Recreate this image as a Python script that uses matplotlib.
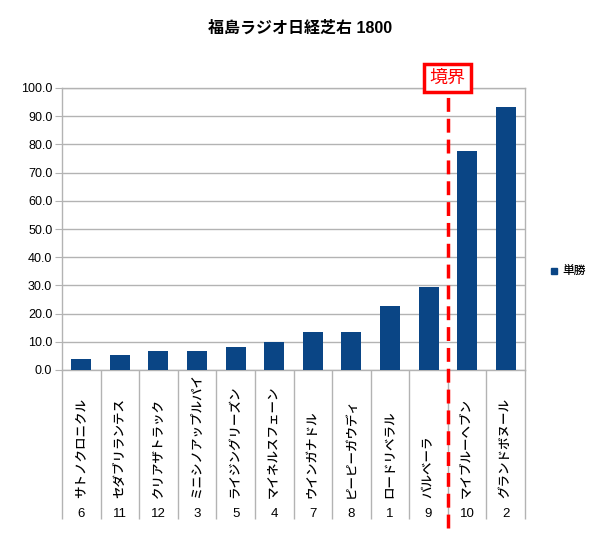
import matplotlib
matplotlib.use("Agg")
import matplotlib.pyplot as plt
import matplotlib.transforms as mtransforms
import numpy as np

plt.rcParams['font.family'] = ['Liberation Sans', 'Noto Sans CJK JP', 'DejaVu Sans']

# data
horse_names = ["サトノクロニクル", "セダブリランテス", "クリアザトラック", "ミニシノアップルパイ",
               "ライジングリーズン", "マイネルスフェーン", "ウインガナドル", "ピーピーガウディ",
               "ロードリベラル", "バルベーラ", "マイブルーヘブン", "グランドボヌール"]
horse_numbers = ["6", "11", "12", "3", "5", "4", "7", "8", "1", "9", "10", "2"]
odds_win = [3.8, 5.3, 6.6, 6.8, 8.2, 9.9, 13.5, 13.5, 22.6, 29.3, 77.6, 93.2]
border_after = 10  # boundary drawn between 10th and 11th horse

BAR = "#0a4585"
GRID = "#b3b3b3"

fig = plt.figure(figsize=(6.0, 5.43), dpi=100, facecolor="white")
ax = fig.add_axes([62 / 600, 1 - 370 / 543, 463 / 600, 282 / 543])

x = np.arange(len(odds_win))
ax.bar(x, odds_win, width=0.52, color=BAR, zorder=3)

ax.set_xlim(-0.5, len(odds_win) - 0.5)
ax.set_ylim(0, 100)
ax.set_yticks(np.arange(0, 101, 10))
ax.set_yticklabels([f"{v:.1f}" for v in np.arange(0, 101, 10)], fontsize=9)
ax.tick_params(axis="y", length=5, color=GRID, pad=2)
ax.grid(True, axis="y", color=GRID, linewidth=1, zorder=0)

# category dividers drawn as long ticks at the boundaries
ax.set_xticks(np.arange(-0.5, len(odds_win), 1.0))
ax.set_xticklabels([])
ax.tick_params(axis="x", direction="out", length=107, width=1, color=GRID)

for s in ax.spines.values():
    s.set_color(GRID)
    s.set_linewidth(1)

trans = mtransforms.blended_transform_factory(ax.transData, ax.transAxes)
for i, (name, num) in enumerate(zip(horse_names, horse_numbers)):
    ax.text(i, -0.455, name, rotation=90, ha="center", va="bottom",
            fontsize=9, fontweight="medium", transform=trans)
    ax.text(i, -0.51, num, ha="center", va="center", fontsize=9.5, transform=trans)

# boundary marker
bx = border_after - 0.5
ax.plot([bx, bx], [-0.56, 0.97], transform=trans, color="#ff0000",
        linewidth=2.5, linestyle=(0, (4, 2)), clip_on=False, zorder=5)
ax.text(bx, 1.035, "境界", transform=trans, ha="center", va="center",
        fontsize=13, color="#ff0000", zorder=6,
        bbox=dict(boxstyle="square,pad=0.3", facecolor="white",
                  edgecolor="#ff0000", linewidth=2.5))

# legend
fig.patches.append(plt.Rectangle((551 / 600, 1 - 274 / 543), 6 / 600, 6 / 543,
                                 transform=fig.transFigure, color=BAR))
fig.text(562 / 600, 1 - 271 / 543, "単勝", fontsize=8.5, fontweight="medium",
         va="center", ha="left")

fig.text(0.5, 1 - 28 / 543, "福島ラジオ日経芝右 1800", ha="center", va="center",
         fontsize=11.5, fontweight="bold")

fig.savefig("out.png", dpi=100)
